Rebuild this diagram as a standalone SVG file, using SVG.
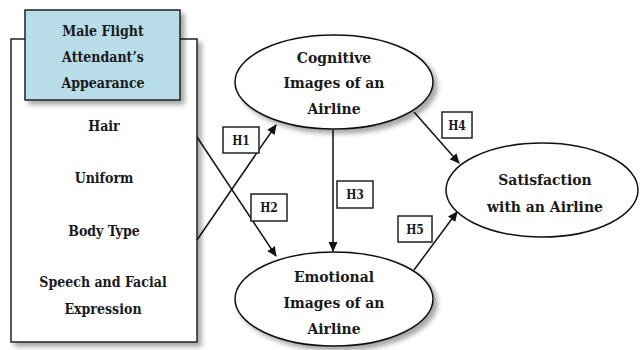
<svg xmlns="http://www.w3.org/2000/svg" width="641" height="350" viewBox="0 0 641 350">
<defs>
<filter id="sh" x="-20%" y="-20%" width="150%" height="150%">
<feGaussianBlur in="SourceAlpha" stdDeviation="2.5"/>
<feOffset dx="4" dy="4" result="b"/>
<feComponentTransfer><feFuncA type="linear" slope="0.35"/></feComponentTransfer>
<feMerge><feMergeNode/><feMergeNode in="SourceGraphic"/></feMerge>
</filter>
<marker id="arr" markerWidth="10" markerHeight="10" refX="9" refY="5" orient="auto" markerUnits="userSpaceOnUse">
<path d="M0,0.5 L10,5 L0,9.5 Z" fill="#111"/>
</marker>
</defs>
<style>
text{font-family:"DejaVu Serif Condensed","DejaVu Serif",serif;font-weight:bold;fill:#1a1a1a;text-anchor:middle;}
.t{font-size:14px;}
.big{font-size:15.5px;}
.lab{font-size:12px;}
.box{fill:#fff;stroke:#222;stroke-width:1.5;}
.ell{fill:#fff;stroke:#111;stroke-width:1.5;}
.ln{stroke:#111;stroke-width:1.5;fill:none;}
</style>
<rect width="641" height="350" fill="#fff"/>
<g id="appearance">
<rect class="box" x="11" y="39" width="186" height="303" filter="url(#sh)"/>
<rect x="25" y="10" width="155" height="90" fill="#b8dde8" stroke="#222" stroke-width="1.5" filter="url(#sh)"/>
<text class="t" x="103" y="36">Male Flight</text>
<text class="t" x="103" y="62">Attendant’s</text>
<text class="t" x="103" y="88">Appearance</text>
<text class="t" x="104" y="131">Hair</text>
<text class="t" x="104" y="183">Uniform</text>
<text class="t" x="104" y="236">Body Type</text>
<text class="t" x="103" y="287">Speech and Facial</text>
<text class="t" x="103" y="314">Expression</text>
</g>
<g id="cognitive">
<ellipse class="ell" cx="334" cy="82" rx="99" ry="47" filter="url(#sh)"/>
<text class="big" x="334" y="63">Cognitive</text>
<text class="big" x="334" y="88">Images of an</text>
<text class="big" x="334" y="114">Airline</text>
</g>
<g id="emotional">
<ellipse class="ell" cx="334" cy="299" rx="99" ry="47" filter="url(#sh)"/>
<text class="big" x="334" y="282">Emotional</text>
<text class="big" x="334" y="308">Images of an</text>
<text class="big" x="334" y="334">Airline</text>
</g>
<g id="satisfaction">
<ellipse class="ell" cx="542" cy="190" rx="96" ry="47"/>
<text class="big" x="545" y="185">Satisfaction</text>
<text class="big" x="545" y="212">with an Airline</text>
</g>
<g id="connectors">
<line class="ln" x1="197" y1="137" x2="276" y2="256" marker-end="url(#arr)"/>
<line class="ln" x1="197" y1="240" x2="276" y2="125" marker-end="url(#arr)"/>
<line class="ln" x1="333" y1="130" x2="333" y2="251" marker-end="url(#arr)"/>
<line class="ln" x1="414" y1="112" x2="459" y2="163" marker-end="url(#arr)"/>
<line class="ln" x1="414" y1="270" x2="457" y2="212" marker-end="url(#arr)"/>
</g>
<g id="labels">
<rect class="box" x="223" y="127" width="36" height="26"/>
<text class="lab" x="241" y="145">H1</text>
<rect class="box" x="251" y="194" width="36" height="27"/>
<text class="lab" x="269" y="212">H2</text>
<rect class="box" x="337" y="181" width="36" height="27"/>
<text class="lab" x="355" y="199">H3</text>
<rect class="box" x="442" y="112" width="30" height="26"/>
<text class="lab" x="457" y="130">H4</text>
<rect class="box" x="398" y="216" width="34" height="26"/>
<text class="lab" x="415" y="234">H5</text>
</g>
</svg>
